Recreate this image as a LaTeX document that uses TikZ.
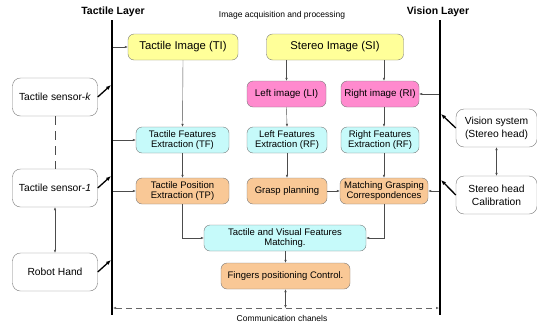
\documentclass[tikz,border=0pt]{standalone}
\usepackage{fontspec}
\setmainfont{Liberation Sans}
\usetikzlibrary{arrows.meta}
\definecolor{cyel}{HTML}{FFFF99}
\definecolor{cpink}{HTML}{FF8ACE}
\definecolor{ccyan}{HTML}{C6FAFA}
\definecolor{corange}{HTML}{F9C896}
\definecolor{cedge}{HTML}{7A7A7A}
\begin{document}
\begin{tikzpicture}[x=1pt,y=-1pt,
  box/.style={draw=cedge, rounded corners=6pt, align=center, inner sep=1pt, font=\fontsize{9.5}{10.5}\selectfont},
  ybox/.style={box, fill=cyel, font=\fontsize{11.3}{12}\selectfont},
  pbox/.style={box, fill=cpink, font=\fontsize{9.8}{11}\selectfont},
  cbox/.style={box, fill=ccyan},
  obox/.style={box, fill=corange},
  wbox/.style={box, fill=white, rounded corners=8pt, font=\fontsize{10.3}{13}\selectfont},
  conn/.style={draw=black!70, line width=0.4pt, -{Latex[length=3pt,width=2.4pt]}},
  dconn/.style={conn, {Latex[length=3pt,width=2.4pt]}-{Latex[length=3pt,width=2.4pt]}},
  thick arr/.style={line width=1.3pt, -{Latex[length=5pt,width=4pt]}},
  layer/.style={line width=2.2pt}
]
\useasboundingbox (0,0) rectangle (537,327);
% layer lines
\coordinate (Ltop) at (112,20);
\coordinate (Lbot) at (112,315);
\coordinate (Rtop) at (440,20);
\coordinate (Rbot) at (440,315);
\draw[layer] (Ltop) -- (Lbot);
\draw[layer] (Rtop) -- (Rbot);
\node[font=\bfseries\fontsize{10.5}{12}\selectfont] (tl) at (113,12) {Tactile Layer};
\node[font=\bfseries\fontsize{10.5}{12}\selectfont] (vl) at (438,12) {Vision Layer};
\node[font=\fontsize{8.5}{10}\selectfont] (iap) at (282,15) {Image acquisition and processing};

% central boxes
\node[ybox, minimum width=110pt, minimum height=26pt] (TI) at (183,47) {Tactile Image (TI)};
\node[ybox, minimum width=137pt, minimum height=26pt] (SI) at (335,47) {Stereo Image (SI)};
\node[pbox, minimum width=79pt, minimum height=26pt] (LI) at (286.5,94) {Left image (LI)};
\node[pbox, minimum width=78pt, minimum height=26pt] (RI) at (380,94) {Right image (RI)};
\node[cbox, minimum width=93pt, minimum height=26pt] (TF) at (182.5,140) {Tactile Features\\Extraction (TF)};
\node[cbox, minimum width=80pt, minimum height=26pt] (LF) at (287,140) {Left Features\\Extraction (RF)};
\node[cbox, minimum width=78pt, minimum height=26pt] (RF) at (380,140) {Right Features\\Extraction (RF)};
\node[obox, minimum width=93pt, minimum height=26pt] (TP) at (182.5,191) {Tactile Position\\Extraction (TP)};
\node[obox, minimum width=80pt, minimum height=26pt] (GP) at (287,191) {Grasp planning};
\node[obox, minimum width=88pt, minimum height=26pt] (MG) at (384,191) {Matching Grasping\\Correspondences};
\node[cbox, minimum width=162pt, minimum height=26pt] (TV) at (285,238) {Tactile and Visual Features\\Matching.};
\node[obox, minimum width=129pt, minimum height=26pt] (FP) at (285.5,276) {Fingers positioning Control.};

% side boxes
\node[wbox, minimum width=85pt, minimum height=38pt] (SK) at (55,97) {Tactile sensor-\textit{k}};
\node[wbox, minimum width=85pt, minimum height=38pt] (S1) at (55,188) {Tactile sensor-\textit{1}};
\node[wbox, minimum width=85pt, minimum height=38pt] (RH) at (55,272) {Robot Hand};
\node[wbox, minimum width=81pt, minimum height=38pt] (VS) at (496.5,128) {Vision system\\(Stereo head)};
\node[wbox, minimum width=81pt, minimum height=38pt] (SC) at (496.5,195) {Stereo head\\Calibration};

% communication line
\coordinate (cl) at (113,308);
\coordinate (cr) at (439,308);
\draw[draw=black!60, dash pattern=on 6pt off 4pt, {Latex[length=3pt,width=2.4pt]}-{Latex[length=3pt,width=2.4pt]}] (cl) -- (cr);
\node[font=\fontsize{8.5}{10}\selectfont] (cc) at (282,318) {Communication chanels};

% left side
\draw[draw=black!70, dash pattern=on 9pt off 6pt] (SK.south) -- (S1.north);
\draw[dconn] (S1.south) -- (RH.north);
\coordinate (ak) at (111,85);
\coordinate (a1) at (111,176);
\coordinate (ah) at (111,260);
\draw[thick arr] (SK.east) -- (ak);
\draw[thick arr] (S1.east) -- (a1);
\draw[thick arr] (RH.east) -- (ah);
% right side
\draw[dconn] (VS.south) -- (SC.north);
\coordinate (av) at (441,114);
\coordinate (ac) at (441,180);
\draw[thick arr] (VS.west) -- (av);
\draw[thick arr] (SC.west) -- (ac);

% from layers
\draw[conn] (113,47) -- (TI.west);
\draw[conn] (113,140) -- (TF.west);
\draw[conn] (113,191) -- (TP.west);
\draw[conn] (439,94) -- (RI.east);
\draw[conn] (439,191) -- (MG.east);

% flow
\draw[conn] (TI.south) -- (TF.north);
\draw[conn] (TF.south) -- (TP.north);
\draw[conn] (SI.south -| LI.north) -- (LI.north);
\draw[conn] (SI.south -| MG.north) -- (MG.north |- RI.north);
\draw[conn] (LI.south) -- (LF.north);
\draw[conn] (MG.north |- RI.south) -- (MG.north |- RF.north);
\draw[conn] (LF.south) -- (GP.north);
\draw[conn] (MG.north |- RF.south) -- (MG.north);
\draw[conn] (GP.east) -- (MG.west);
\draw[conn] (TP.south) |- (TV.west);
\draw[conn] (MG.south) |- (TV.east);
\draw[conn] (TV.south -| FP.north) -- (FP.north);
\draw[dconn] (FP.south) -- (FP.south |- cl);
\end{tikzpicture}
\end{document}
